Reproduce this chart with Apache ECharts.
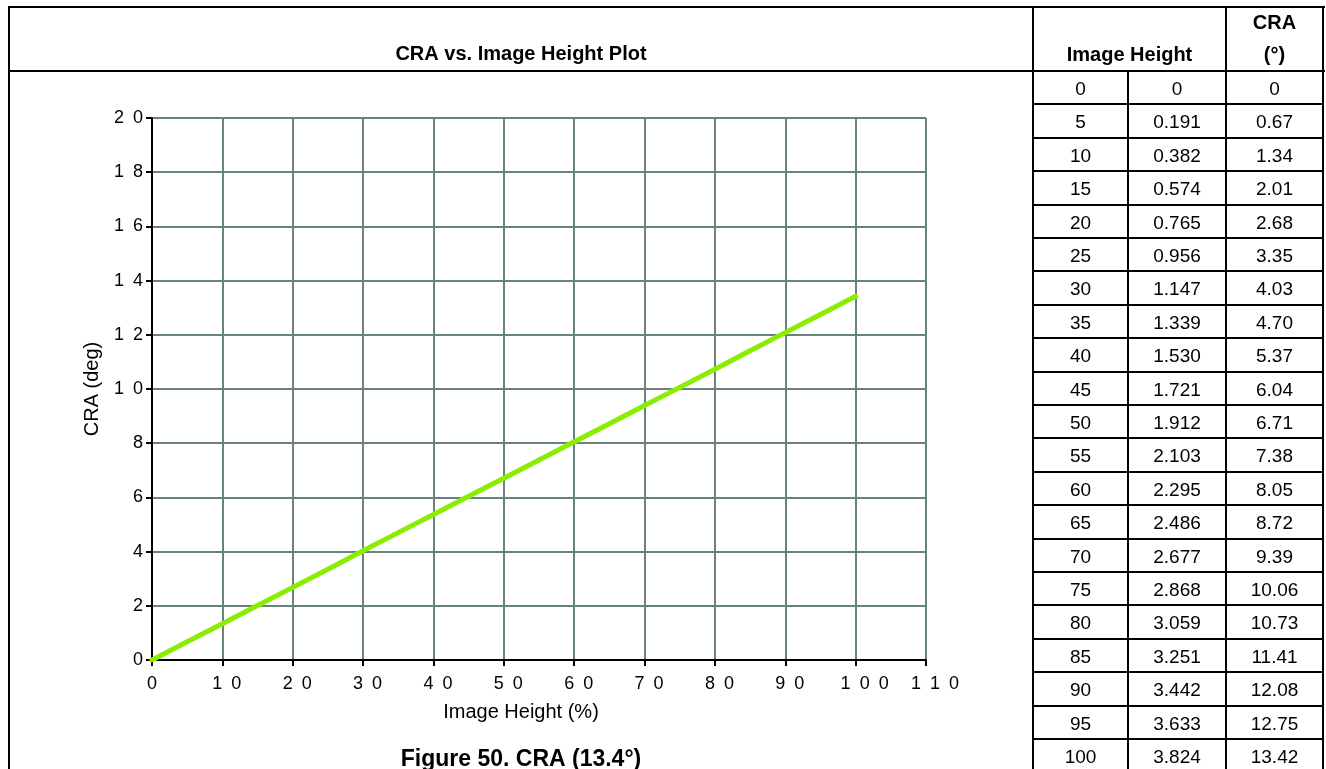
<!DOCTYPE html>
<html>
<head>
<meta charset="utf-8">
<title>CRA vs. Image Height</title>
<script src="https://cdn.jsdelivr.net/npm/echarts@6/dist/echarts.min.js"></script>
<style>
  html, body { margin: 0; padding: 0; background: #fff; }
  #page { position: relative; width: 1326px; height: 769px; overflow: hidden; font-family: "Liberation Sans", Arial, Helvetica, sans-serif; color: #000; }
  #chart { position: absolute; left: 0; top: 0; width: 1326px; height: 769px; }
  .ln { position: absolute; background: #000; }
  .cell { position: absolute; text-align: center; font-size: 19px; white-space: nowrap; }
  .head { position: absolute; text-align: center; font-size: 20px; font-weight: bold; line-height: 32px; white-space: nowrap; }
</style>
</head>
<body>
<div id="page">
  <div id="chart"></div>
  <div id="frame"></div>
</div>
<script>
var imageHeightPct = [0, 5, 10, 15, 20, 25, 30, 35, 40, 45, 50, 55, 60, 65, 70, 75, 80, 85, 90, 95, 100];
var imageHeightMm = [0, 0.191, 0.382, 0.574, 0.765, 0.956, 1.147, 1.339, 1.530, 1.721, 1.912, 2.103, 2.295, 2.486, 2.677, 2.868, 3.059, 3.251, 3.442, 3.633, 3.824];
var craDeg = [0, 0.67, 1.34, 2.01, 2.68, 3.35, 4.03, 4.70, 5.37, 6.04, 6.71, 7.38, 8.05, 8.72, 9.39, 10.06, 10.73, 11.41, 12.08, 12.75, 13.42];
var xTicks = [0, 110, 10];   // min, max, step
var yTicks = [0, 20, 2];

var FONT = '"Liberation Sans", Arial, Helvetica, sans-serif';
var gridColor = '#688181';
var lineColor = '#8aee00';

// spaced digits like "1 0 0"
function spaced(v) {
  return String(v).split('').join('\u2002');
}
// x labels sit a little right of their tick in the original
function spacedX(v) {
  var s = String(v);
  return new Array(s.length).join('\u2002') + spaced(v);
}

// ---- frame + table (html) ----
var frame = document.getElementById('frame');
function line(x, y, w, h) {
  var d = document.createElement('div');
  d.className = 'ln';
  d.style.left = x + 'px';
  d.style.top = y + 'px';
  d.style.width = w + 'px';
  d.style.height = h + 'px';
  frame.appendChild(d);
}
function text(cls, x, y, w, h, html) {
  var d = document.createElement('div');
  d.className = cls;
  d.style.left = x + 'px';
  d.style.top = y + 'px';
  d.style.width = w + 'px';
  d.style.height = h + 'px';
  d.style.lineHeight = (cls === 'cell' ? h : 32) + 'px';
  d.innerHTML = html;
  frame.appendChild(d);
}

var cols = [1033, 1128, 1226, 1323];
var headTop = 7, headBottom = 71, rowH = 33.4;

line(8, headTop - 1, 1317, 2);
line(8, headBottom - 1, 1317, 2);
line(8, headTop - 1, 2, 769);
line(cols[0] - 1, headTop - 1, 2, 769);
line(cols[1] - 1, headBottom - 1, 2, 769);
line(cols[2] - 1, headTop - 1, 2, 769);
line(cols[3] - 1, headTop - 1, 2, 769);

text('head', cols[0], 38, cols[2] - cols[0], 32, 'Image Height');
text('head', cols[2], 6, cols[3] - cols[2], 64, 'CRA<br>(°)');

imageHeightPct.forEach(function (p, i) {
  var y = headBottom + i * rowH;
  if (i > 0) line(cols[0] - 1, y - 1, cols[3] - cols[0] + 2, 2);
  var mm = imageHeightMm[i] === 0 ? '0' : imageHeightMm[i].toFixed(3);
  var cra = craDeg[i] === 0 ? '0' : craDeg[i].toFixed(2);
  text('cell', cols[0], y + 1, cols[1] - cols[0], rowH, String(p));
  text('cell', cols[1], y + 1, cols[2] - cols[1], rowH, mm);
  text('cell', cols[2], y + 1, cols[3] - cols[2], rowH, cra);
});

// ---- chart ----
var myChart = echarts.init(document.getElementById('chart'));
myChart.setOption({
  animation: false,
  backgroundColor: 'transparent',
  textStyle: { fontFamily: FONT, color: '#000' },
  title: [
    {
      text: 'CRA vs. Image Height Plot',
      left: 521,
      top: 44,
      padding: 0,
      textAlign: 'center',
      textStyle: { fontFamily: FONT, fontSize: 20, fontWeight: 'bold', color: '#000' }
    },
    {
      text: 'Figure 50. CRA (13.4°)',
      left: 521,
      top: 748,
      padding: 0,
      textAlign: 'center',
      textStyle: { fontFamily: FONT, fontSize: 23, fontWeight: 'bold', color: '#000' }
    }
  ],
  grid: { left: 152, top: 118, width: 774, height: 542, containLabel: false },
  xAxis: {
    type: 'value',
    min: xTicks[0],
    max: xTicks[1],
    interval: xTicks[2],
    name: 'Image Height (%)',
    nameLocation: 'middle',
    nameGap: 42,
    nameTextStyle: { fontFamily: FONT, fontSize: 20, color: '#000', padding: [0, 36, 0, 0] },
    axisLine: { show: true, lineStyle: { color: '#000', width: 2 } },
    axisTick: { show: true, length: 6, lineStyle: { color: '#000', width: 2 } },
    axisLabel: { fontFamily: FONT, fontSize: 18, color: '#000', margin: 15, formatter: spacedX },
    splitLine: { show: true, lineStyle: { color: gridColor, width: 2 } }
  },
  yAxis: {
    type: 'value',
    min: yTicks[0],
    max: yTicks[1],
    interval: yTicks[2],
    name: 'CRA (deg)',
    nameLocation: 'middle',
    nameGap: 50,
    nameTextStyle: { fontFamily: FONT, fontSize: 20, color: '#000' },
    axisLine: { show: true, lineStyle: { color: '#000', width: 2 } },
    axisTick: { show: true, length: 6, lineStyle: { color: '#000', width: 2 } },
    axisLabel: { fontFamily: FONT, fontSize: 18, color: '#000', margin: 9, formatter: spaced },
    splitLine: { show: true, lineStyle: { color: gridColor, width: 2 } }
  },
  series: [
    {
      name: 'CRA',
      type: 'line',
      data: imageHeightPct.map(function (p, i) { return [p, craDeg[i]]; }),
      showSymbol: false,
      symbol: 'none',
      lineStyle: { color: lineColor, width: 5, cap: 'round' },
      itemStyle: { color: lineColor }
    }
  ]
});
</script>
</body>
</html>
